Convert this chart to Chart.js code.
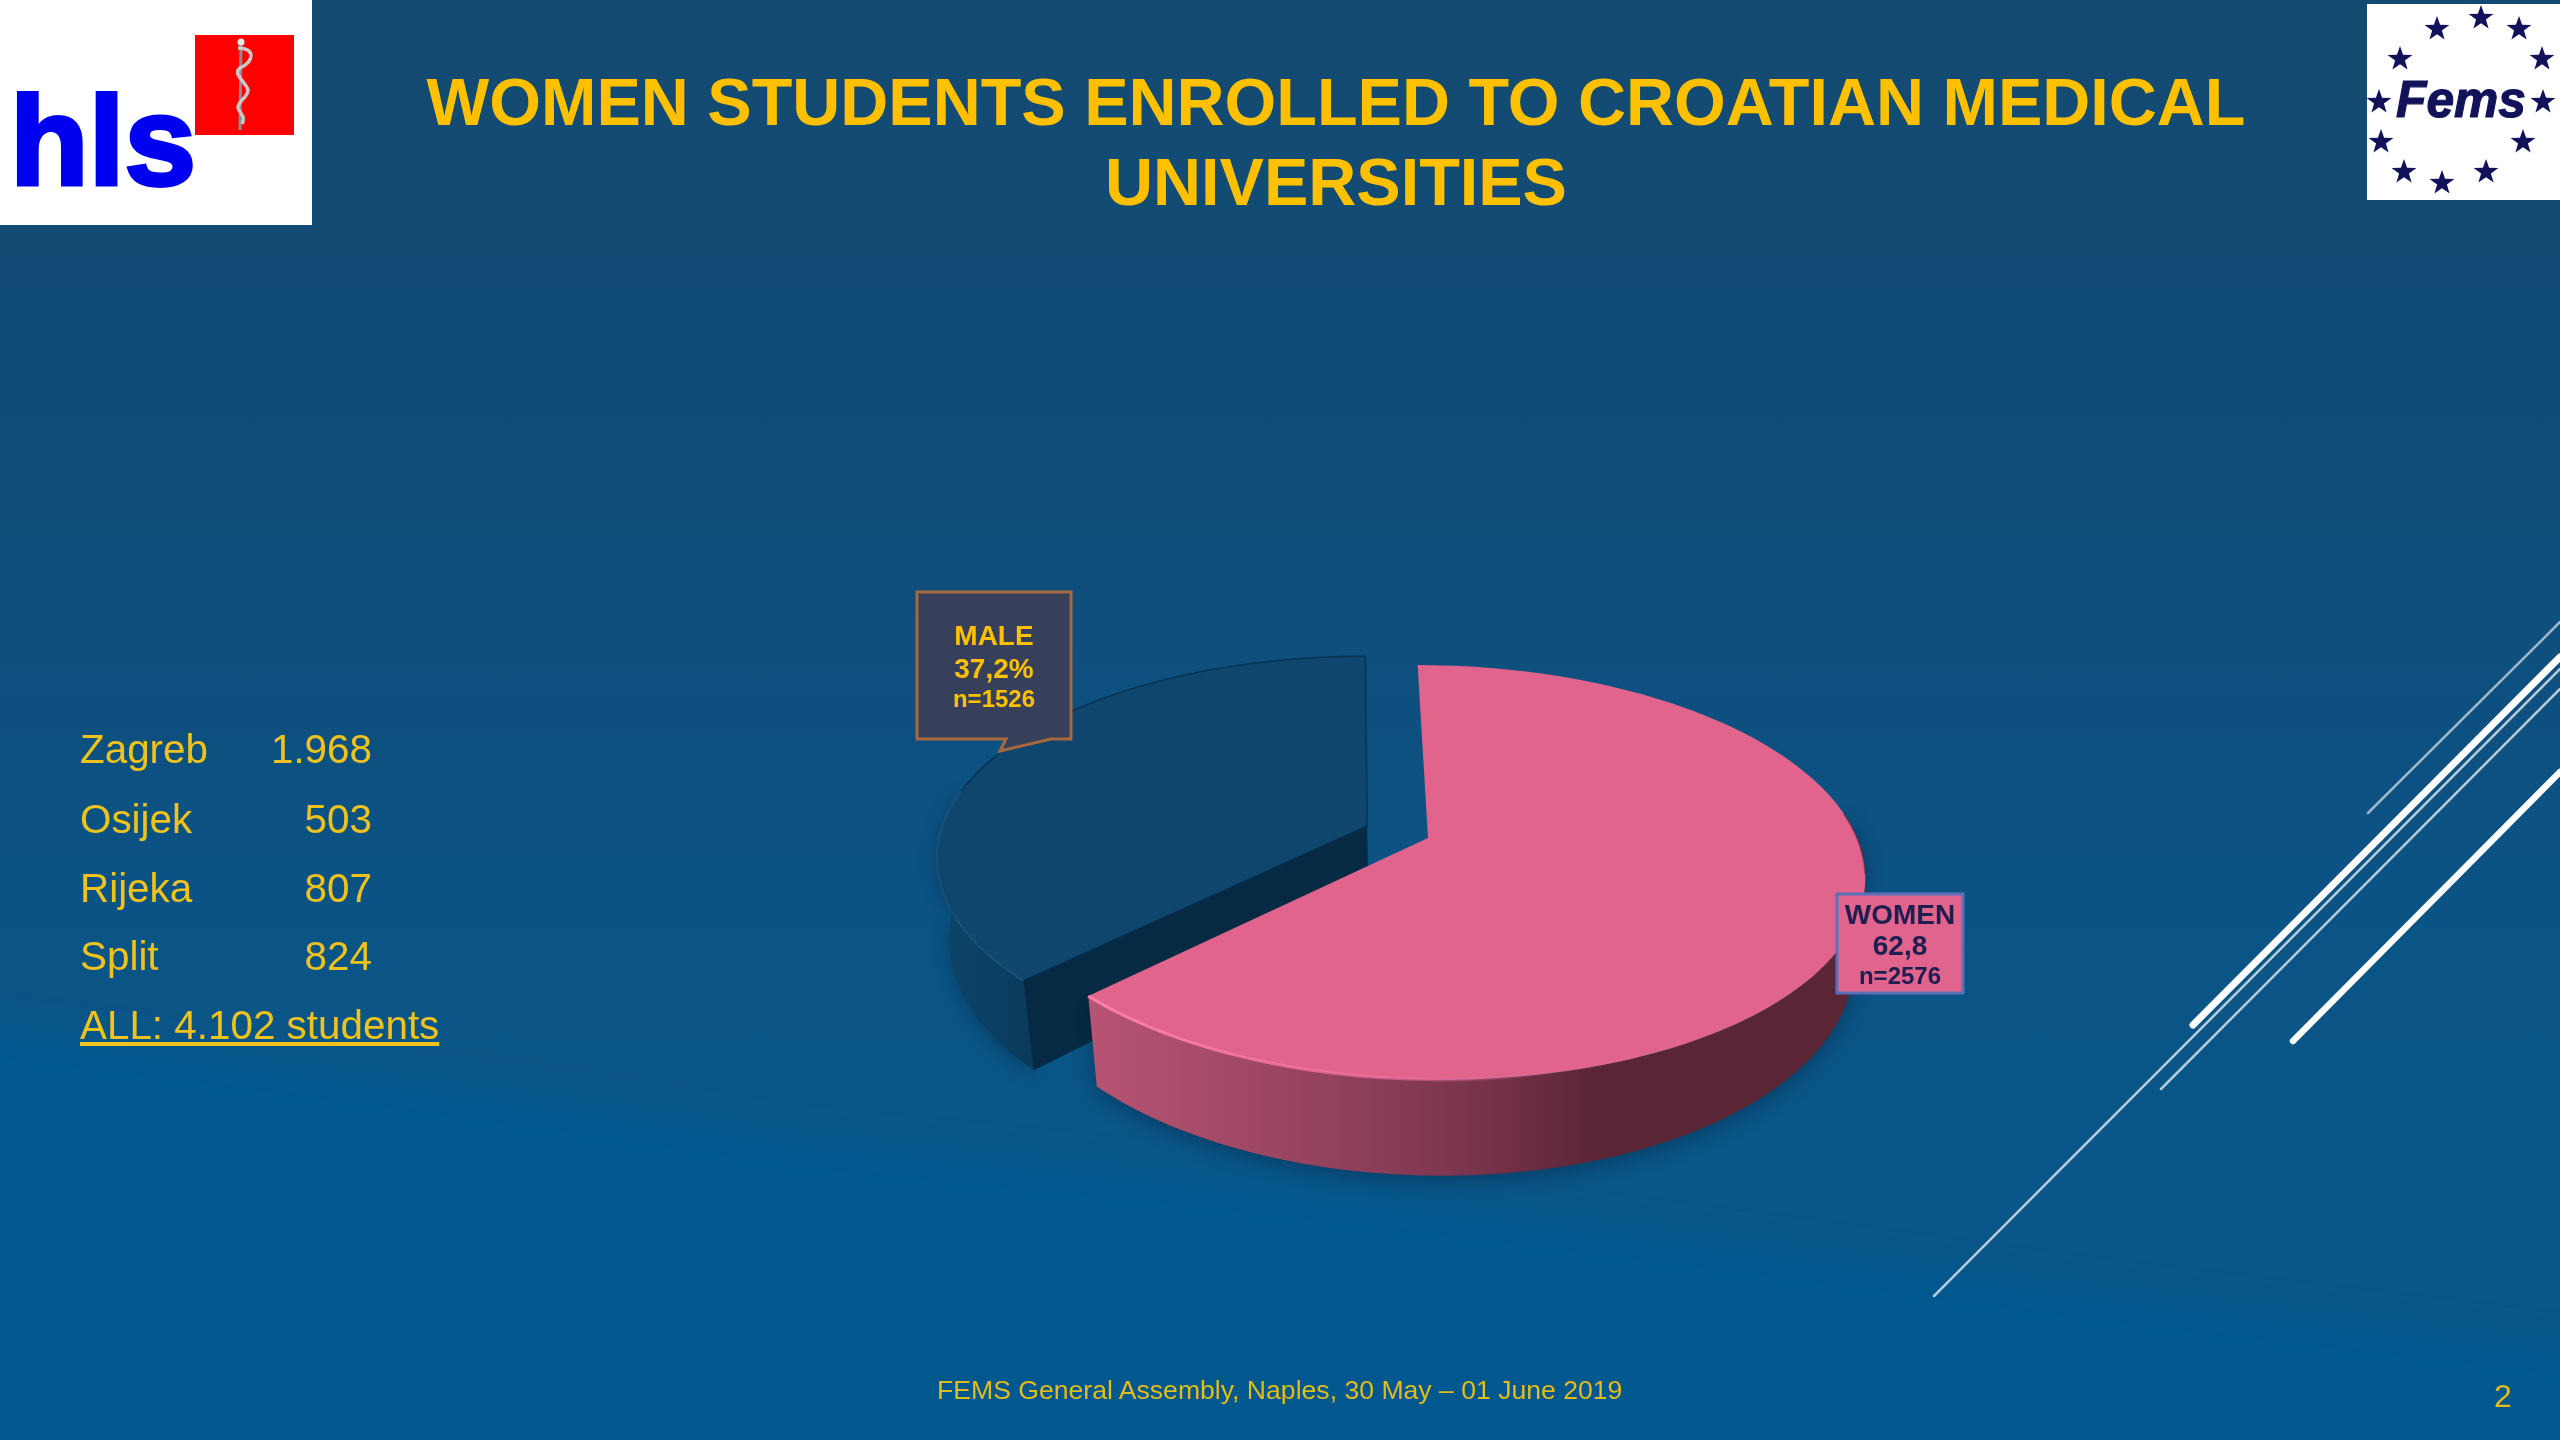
<!DOCTYPE html>
<html>
<head>
<meta charset="utf-8">
<title>Women students enrolled</title>
<script src="https://cdn.jsdelivr.net/npm/chart.js@4/dist/chart.umd.min.js"></script>
<style>
    html, body { margin: 0; padding: 0; width: 2560px; height: 1440px; overflow: hidden; }
    body {
        position: relative;
        font-family: "Liberation Sans", Arial, sans-serif;
        background: linear-gradient(180deg, #134a71 0%, #104d79 35%, #0b5385 62%, #0a5688 78%, #0a5688 100%);
    }
    svg, canvas, .txt { position: absolute; left: 0; top: 0; }
    #title {
        left: 336px; top: 62px; width: 2000px; text-align: center;
        color: #ffc000; font-weight: bold; font-size: 66.5px; line-height: 80px;
    }
    .city { color: #f0c31c; font-size: 40.4px; line-height: 46px; white-space: nowrap; }
    #footer { left: 937px; top: 1375px; color: #e3bb1c; font-size: 26.6px; white-space: nowrap; }
    #pageNo { left: 2494px; top: 1378px; color: #e3bb1c; font-size: 32px; }
</style>
</head>
<body>

<svg id="back" width="2560" height="1440">
    <defs><filter id="soft" x="-5%" y="-20%" width="110%" height="140%"><feGaussianBlur stdDeviation="16"/></filter></defs>
    <path d="M-60 1020 C 245 1060, 500 1090, 816 1140 C 1100 1165, 1469 1205, 1959 1272 C 2200 1305, 2400 1325, 2640 1355 L2640 1520 L-60 1520 Z"
          fill="#01588f" filter="url(#soft)"/>
    <g stroke="#ffffff" stroke-linecap="round">
        <line x1="2368" y1="813" x2="2560" y2="622" stroke-width="2.5" opacity="0.6"/>
        <line x1="1934" y1="1296" x2="2560" y2="669" stroke-width="2.5" opacity="0.7"/>
        <line x1="2161" y1="1089" x2="2560" y2="689" stroke-width="2.5" opacity="0.7"/>
        <line x1="2193" y1="1025" x2="2560" y2="657" stroke-width="7"/>
        <line x1="2293" y1="1041" x2="2560" y2="772" stroke-width="6.5"/>
    </g>
</svg>

<canvas id="myChart" width="2560" height="1440"></canvas>

<svg id="front" width="2560" height="1440"></svg>

<div class="txt" id="title">WOMEN STUDENTS ENROLLED TO CROATIAN MEDICAL<br>UNIVERSITIES</div>
<div class="txt" id="footer">FEMS General Assembly, Naples, 30 May – 01 June 2019</div>
<div class="txt" id="pageNo">2</div>

<script>
const categories = ["WOMEN", "MALE"];
const students = [2576, 1526];
const percentLabels = ["62,8", "37,2%"];
const countLabels = ["n=2576", "n=1526"];

const cityNames = ["Zagreb", "Osijek", "Rijeka", "Split"];
const cityCounts = ["1.968", "503", "807", "824"];
const totalLabel = "ALL: 4.102 students";

// the pie is flat in the library, this tilts it to look like the 3D one
const perspective = 0.166;
const tiltY = 0.47;
const shear = 0.06;
const depth = 80;
const depthShrink = 0.025;

function rimPoint(arc, angle, frac, z) {
    const mid = (arc.startAngle + arc.endAngle) / 2;
    const R = arc.outerRadius;
    const u = frac * Math.cos(angle) + Math.cos(mid) * arc.offset / R;
    const v = frac * Math.sin(angle) + Math.sin(mid) * arc.offset / R;
    const w = 1 - perspective * v;
    let x = R * u / w;
    const y = tiltY * R * v / w;
    x += shear * y;
    x *= 1 - depthShrink * z;
    return { x: arc.x + x, y: arc.y + y + depth * z / w };
}

function tracePoints(ctx, pts) {
    ctx.beginPath();
    pts.forEach((p, i) => i ? ctx.lineTo(p.x, p.y) : ctx.moveTo(p.x, p.y));
}

function rim(arc, z, from, to) {
    const pts = [];
    const steps = 120;
    for (let i = 0; i <= steps; i++) {
        pts.push(rimPoint(arc, from + (to - from) * i / steps, 1, z));
    }
    return pts;
}

function topFace(arc) {
    return [rimPoint(arc, arc.startAngle, 0, 0)].concat(rim(arc, 0, arc.startAngle, arc.endAngle));
}

function drawMale(ctx, arc) {
    // only the front part of the wall can be seen
    const wallEnd = arc.startAngle + 0.95;
    const top = rim(arc, 0, arc.startAngle, wallEnd);
    const bottom = rim(arc, 1, arc.startAngle, wallEnd);

    ctx.save();
    ctx.shadowColor = "rgba(0,20,40,0.35)";
    ctx.shadowBlur = 18;
    ctx.shadowOffsetY = 4;
    const wall = ctx.createLinearGradient(930, 0, 1040, 0);
    wall.addColorStop(0, "#0c4569");
    wall.addColorStop(1, "#0a3a5c");
    ctx.fillStyle = wall;
    tracePoints(ctx, top.concat(bottom.slice().reverse()));
    ctx.fill();
    ctx.restore();

    // dark cut face
    const a = arc.startAngle;
    ctx.fillStyle = "#062a44";
    tracePoints(ctx, [rimPoint(arc, a, 0, 0), rimPoint(arc, a, 1, 0), rimPoint(arc, a, 1, 1), rimPoint(arc, a, 0, 1)]);
    ctx.fill();

    ctx.fillStyle = "#0e466e";
    ctx.strokeStyle = "rgba(5,45,75,0.8)";
    ctx.lineWidth = 1.5;
    tracePoints(ctx, topFace(arc));
    ctx.closePath();
    ctx.fill();
    ctx.stroke();

    // light edge along the front of the top
    ctx.strokeStyle = "rgba(40,105,150,0.55)";
    ctx.lineWidth = 2;
    tracePoints(ctx, rim(arc, 0, arc.startAngle, arc.startAngle + 0.95));
    ctx.stroke();
}

function drawWomen(ctx, arc) {
    const wallStart = arc.startAngle + 1.45;
    const top = rim(arc, 0, wallStart, arc.endAngle);
    const bottom = rim(arc, 1, wallStart, arc.endAngle);

    ctx.save();
    ctx.shadowColor = "rgba(0,20,40,0.4)";
    ctx.shadowBlur = 20;
    ctx.shadowOffsetY = 4;
    const wall = ctx.createLinearGradient(1087, 0, 1600, 0);
    wall.addColorStop(0, "#b85473");
    wall.addColorStop(0.43, "#974360");
    wall.addColorStop(0.71, "#7e3650");
    wall.addColorStop(1, "#5a2535");
    ctx.fillStyle = wall;
    tracePoints(ctx, top.concat(bottom.slice().reverse()));
    ctx.fill();
    ctx.restore();

    ctx.fillStyle = "#e0648c";
    tracePoints(ctx, topFace(arc));
    ctx.closePath();
    ctx.fill();

    const glow = ctx.createLinearGradient(1087, 0, 1560, 0);
    glow.addColorStop(0, "rgba(255,130,170,0.95)");
    glow.addColorStop(0.6, "rgba(255,120,165,0.6)");
    glow.addColorStop(1, "rgba(255,120,165,0)");
    ctx.strokeStyle = glow;
    ctx.lineWidth = 3;
    tracePoints(ctx, rim(arc, 0, arc.endAngle - 2.2, arc.endAngle));
    ctx.stroke();

    ctx.strokeStyle = "rgba(90,30,55,0.45)";
    ctx.lineWidth = 2;
    tracePoints(ctx, rim(arc, 0, arc.startAngle + 1.45, arc.endAngle - 2.2));
    ctx.stroke();
}

const tiltPlugin = {
    id: "tiltPlugin",
    beforeDatasetDraw(chart) {
        const ctx = chart.ctx;
        const arcs = chart.getDatasetMeta(0).data.map((el, i) => {
            const p = el.getProps(["x", "y", "startAngle", "endAngle", "outerRadius"], true);
            p.offset = el.options.offset;
            return p;
        });
        drawMale(ctx, arcs[1]);
        drawWomen(ctx, arcs[0]);
        return false;
    }
};

new Chart(document.getElementById("myChart"), {
    type: "pie",
    data: {
        labels: categories,
        datasets: [{
            data: students,
            backgroundColor: ["#e0648c", "#0e466e"],
            borderWidth: 0,
            offset: [0, 66],
            radius: 429
        }]
    },
    options: {
        responsive: false,
        animation: false,
        layout: { padding: { left: 296, top: 236 } },
        plugins: { legend: { display: false }, tooltip: { enabled: false } }
    },
    plugins: [tiltPlugin]
});

// city list on the left
const rowTops = [726, 796, 865, 933];
cityNames.forEach((name, i) => {
    const left = document.createElement("div");
    left.className = "txt city";
    left.style.left = "80px";
    left.style.top = rowTops[i] + "px";
    left.textContent = name;
    document.body.appendChild(left);

    const right = document.createElement("div");
    right.className = "txt city";
    right.style.left = "172px";
    right.style.width = "200px";
    right.style.textAlign = "right";
    right.style.top = rowTops[i] + "px";
    right.textContent = cityCounts[i];
    document.body.appendChild(right);
});
const total = document.createElement("div");
total.className = "txt city";
total.style.left = "80px";
total.style.top = "1002px";
total.style.textDecoration = "underline";
total.textContent = totalLabel;
document.body.appendChild(total);

// logos and callouts
const NS = "http://www.w3.org/2000/svg";
const front = document.getElementById("front");

function add(parent, tag, attrs, text) {
    const el = document.createElementNS(NS, tag);
    Object.keys(attrs).forEach(k => el.setAttribute(k, attrs[k]));
    if (text !== undefined) el.textContent = text;
    parent.appendChild(el);
    return el;
}

function starPath(cx, cy, r) {
    const pts = [];
    for (let i = 0; i < 10; i++) {
        const rad = i % 2 ? r * 0.4 : r;
        const a = -Math.PI / 2 + i * Math.PI / 5;
        pts.push((cx + rad * Math.cos(a)).toFixed(1) + "," + (cy + rad * Math.sin(a)).toFixed(1));
    }
    return pts.join(" ");
}

// hls
add(front, "rect", { x: 0, y: 0, width: 312, height: 225, fill: "#ffffff" });
add(front, "rect", { x: 195, y: 35, width: 99, height: 100, fill: "#ff0000" });
add(front, "path", { d: "M241 42 L240 130", stroke: "#8c8c8c", "stroke-width": 3, fill: "none" });
add(front, "path", { d: "M238 48 C 256 48, 254 62, 240 68 C 232 74, 246 82, 248 90 C 248 98, 238 100, 238 108 C 240 114, 246 116, 242 124",
    stroke: "#c8c8c8", "stroke-width": 3.5, fill: "none" });
add(front, "circle", { cx: 241, cy: 42, r: 3.5, fill: "#e6e6e6" });
add(front, "text", { x: 10, y: 185, "font-size": 126, "font-weight": "bold", fill: "#0000f0", stroke: "#0000f0", "stroke-width": 4,
    "font-family": "Liberation Sans", textLength: 186, lengthAdjust: "spacingAndGlyphs" }, "hls");

// fems
add(front, "rect", { x: 2367, y: 4, width: 193, height: 196, fill: "#ffffff" });
const femsStars = [[2481, 18], [2437, 29], [2519, 29], [2400, 59], [2542, 59], [2379, 102],
    [2543, 102], [2381, 142], [2523, 142], [2404, 172], [2486, 172], [2442, 183]];
femsStars.forEach(s => add(front, "polygon", { points: starPath(s[0], s[1], 13), fill: "#12125a" }));
add(front, "text", { x: 2396, y: 117, "font-size": 52, "font-weight": "bold", "font-style": "italic", fill: "#12125a", stroke: "#12125a", "stroke-width": 1.2,
    "font-family": "Liberation Sans", textLength: 130, lengthAdjust: "spacingAndGlyphs" }, "Fems");

function callout(cx, ys, lines, sizes, color) {
    lines.forEach((line, i) => {
        add(front, "text", { x: cx, y: ys[i], "text-anchor": "middle", "font-size": sizes[i], "font-weight": "bold",
            fill: color, "font-family": "Liberation Sans" }, line);
    });
}

add(front, "path", { d: "M917 592 H1071 V739 H1051 L1000 751 L1006 739 H917 Z", fill: "#37405a", stroke: "#a8683f", "stroke-width": 3 });
callout(994, [645, 678, 707], [categories[1], percentLabels[1], countLabels[1]], [28, 28, 24], "#ffc000");

add(front, "rect", { x: 1837, y: 894, width: 126, height: 99, fill: "#e0648c", stroke: "#5a70b8", "stroke-width": 3 });
callout(1900, [924, 955, 984], [categories[0], percentLabels[0], countLabels[0]], [28, 28, 24], "#1e1e50");
</script>
</body>
</html>
